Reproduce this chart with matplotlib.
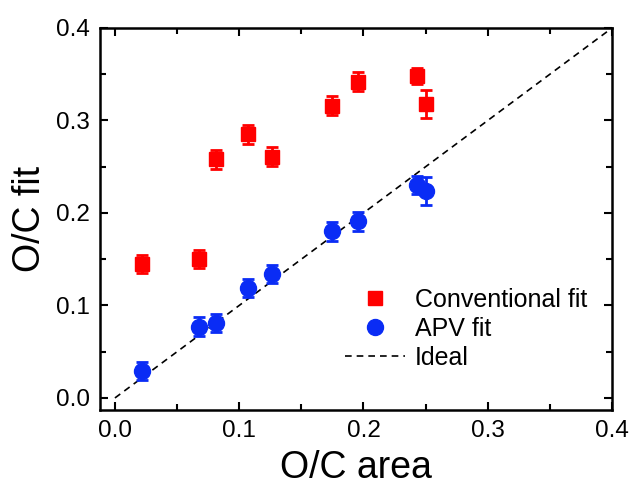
import matplotlib
matplotlib.use("Agg")
import matplotlib.pyplot as plt
from matplotlib.ticker import MultipleLocator, FormatStrFormatter
from matplotlib.container import ErrorbarContainer

plt.rcParams['font.family'] = ['Liberation Sans', 'DejaVu Sans']

x_area = [0.022, 0.068, 0.081, 0.107, 0.126, 0.175, 0.196, 0.243, 0.250]
conv_fit = [0.145, 0.150, 0.258, 0.285, 0.261, 0.316, 0.342, 0.348, 0.318]
conv_err = [0.010, 0.010, 0.010, 0.010, 0.010, 0.010, 0.010, 0.009, 0.015]
apv_fit = [0.029, 0.077, 0.081, 0.119, 0.134, 0.180, 0.191, 0.230, 0.224]
apv_err = [0.010, 0.010, 0.010, 0.010, 0.010, 0.010, 0.010, 0.010, 0.015]
ideal = [0.0, 0.4]

fig = plt.figure(figsize=(6.29, 4.91), dpi=100)
ax = fig.add_axes([0.159, 0.165, 0.814, 0.778])

ax.plot(ideal, ideal, ls=(0, (4, 3)), color='black', lw=1.2, label='Ideal', zorder=1)
ax.errorbar(x_area, conv_fit, yerr=conv_err, fmt='s', color='#ff0000', ms=10,
            capsize=4.5, capthick=2, elinewidth=2, label='Conventional fit', zorder=3)
ax.errorbar(x_area, apv_fit, yerr=apv_err, fmt='o', color='#0a2cf5', ms=11.5,
            capsize=4.5, capthick=2, elinewidth=2, label='APV fit', zorder=3)

ax.set_xlim(-0.012, 0.4)
ax.set_ylim(-0.013, 0.4)
ax.xaxis.set_major_locator(MultipleLocator(0.1))
ax.xaxis.set_minor_locator(MultipleLocator(0.05))
ax.yaxis.set_major_locator(MultipleLocator(0.1))
ax.yaxis.set_minor_locator(MultipleLocator(0.05))
ax.tick_params(which='both', direction='in', top=True, right=True, width=1.5)
ax.tick_params(which='major', length=6, labelsize=17.5, pad=7)
ax.tick_params(which='minor', length=4)
ax.xaxis.set_major_formatter(FormatStrFormatter('%.1f'))
ax.yaxis.set_major_formatter(FormatStrFormatter('%.1f'))
for s in ax.spines.values():
    s.set_linewidth(1.8)

ax.set_xlabel('O/C area', fontsize=27, labelpad=6)
ax.set_ylabel('O/C fit', fontsize=27, labelpad=6)

h, l = ax.get_legend_handles_labels()
order = [1, 2, 0]
hh = [h[i] for i in order]
hh = [hx.lines[0] if isinstance(hx, ErrorbarContainer) else hx for hx in hh]
ax.legend(hh, [l[i] for i in order], loc='lower right', frameon=False, fontsize=18,
          bbox_to_anchor=(0.985, 0.06), handlelength=2.4, labelspacing=0.2,
          handletextpad=0.4, borderpad=0.2)

fig.savefig('out.png', dpi=100)
